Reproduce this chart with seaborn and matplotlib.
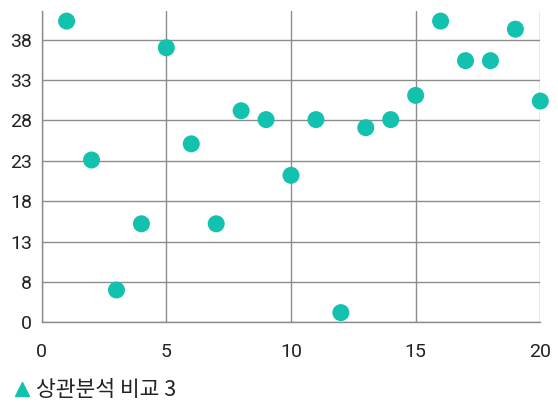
import pandas as pd
import seaborn as sns
import matplotlib.pyplot as plt
from matplotlib.lines import Line2D

# data
x_vals = [1, 2, 3, 4, 5, 6, 7, 8, 9, 10, 11, 12, 13, 14, 15, 16, 17, 18, 19, 20]
y_vals = [40.3, 23.1, 7.0, 15.2, 37.0, 25.1, 15.2, 29.2, 28.1, 21.2,
          28.1, 4.2, 27.1, 28.1, 31.1, 40.3, 35.4, 35.4, 39.3, 30.4]
y_ticks = [3, 8, 13, 18, 23, 28, 33, 38]
y_tick_labels = ["0", "8", "13", "18", "23", "28", "33", "38"]
x_ticks = [0, 5, 10, 15, 20]
series_name = "상관분석 비교 3"

df = pd.DataFrame({"x": x_vals, "y": y_vals})

sns.set_style("white")
plt.rcParams["font.family"] = ["Noto Sans CJK KR", "DejaVu Sans"]

teal = "#12c2ae"
grid = "#8c8c8c"

fig = plt.figure(figsize=(5.58, 4.12), dpi=100)
ax = fig.add_axes([0.0747, 0.2177, 0.8936, 0.7556])

sns.scatterplot(data=df, x="x", y="y", ax=ax, color=teal, s=150,
                edgecolor="none", clip_on=False, zorder=3, legend=False)

ax.set_xlim(0, 20)
ax.set_ylim(3, 41.55)
ax.set_xticks(x_ticks)
ax.set_yticks(y_ticks)
ax.set_yticklabels(y_tick_labels)
ax.set_xlabel("")
ax.set_ylabel("")

ax.grid(True, color=grid, linewidth=1)
ax.set_axisbelow(True)
for side in ["top", "right"]:
    ax.spines[side].set_visible(False)
for side in ["left", "bottom"]:
    ax.spines[side].set_color(grid)
    ax.spines[side].set_linewidth(1)

ax.tick_params(axis="both", length=0, labelsize=14, labelcolor="#222222")
ax.tick_params(axis="x", pad=15)
ax.tick_params(axis="y", pad=7)
for lab in ax.get_xticklabels() + ax.get_yticklabels():
    lab.set_family(["Roboto", "DejaVu Sans"])

handle = Line2D([], [], marker="^", color=teal, linestyle="none", markersize=10)
fig.legend([handle], [series_name], loc="center left", bbox_to_anchor=(-0.018, 0.053),
           frameon=False, handletextpad=0.05, handlelength=1.2,
           labelcolor="#222222", prop={"weight": "medium", "size": 15.5})

fig.savefig("out.png", dpi=100)
